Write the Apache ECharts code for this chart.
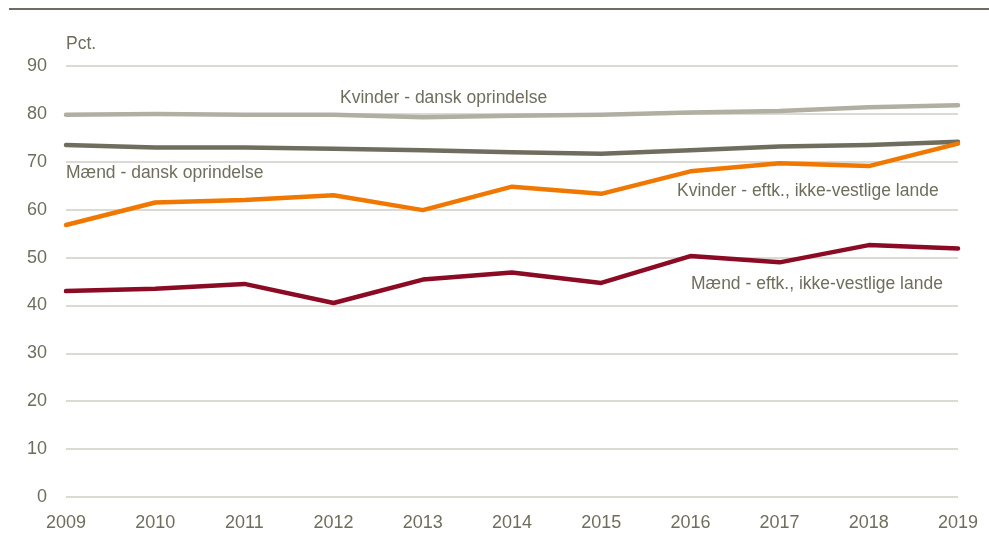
<!DOCTYPE html>
<html><head><meta charset="utf-8">
<script src="https://cdn.jsdelivr.net/npm/echarts@6/dist/echarts.min.js"></script>
<style>html,body{margin:0;padding:0;background:#fff}#c{width:989px;height:539px}</style>
</head><body><div id="c"></div>
<script>
const years = ['2009','2010','2011','2012','2013','2014','2015','2016','2017','2018','2019'];
const kvinderDansk = [79.8, 80.0, 79.8, 79.8, 79.3, 79.6, 79.8, 80.3, 80.6, 81.4, 81.8];
const maendDansk = [73.5, 73.0, 73.0, 72.7, 72.4, 72.0, 71.7, 72.4, 73.2, 73.5, 74.2];
const kvinderEftk = [56.8, 61.5, 62.0, 63.0, 59.9, 64.8, 63.3, 68.0, 69.7, 69.1, 73.8];
const maendEftk = [43.0, 43.5, 44.5, 40.5, 45.4, 46.9, 44.7, 50.3, 49.0, 52.6, 51.9];

const txt = '#6f6e5e';
const font = 'Liberation Sans, Arial, sans-serif';
const chart = echarts.init(document.getElementById('c'), null, {renderer:'canvas'});
function s(name, data, color){
  return {name, type:'line', data, symbol:'none', smooth:false,
    lineStyle:{color, width:4.5, cap:'round', join:'round'}, itemStyle:{color}, z:3, animation:false};
}
chart.setOption({
  animation:false,
  backgroundColor:'#fff',
  grid:{left:66, right:31, top:66, bottom:42, containLabel:false},
  xAxis:{type:'category', data:years, boundaryGap:false,
    axisLine:{show:false}, axisTick:{show:false},
    axisLabel:{color:txt, fontSize:18, fontFamily:font, margin:17}},
  yAxis:{type:'value', min:0, max:90, interval:10,
    axisLine:{show:false}, axisTick:{show:false},
    axisLabel:{color:txt, fontSize:18, fontFamily:font, margin:19},
    splitLine:{lineStyle:{color:'#d0cec6', width:1.5}}},
  series:[
    s('Kvinder - dansk oprindelse', kvinderDansk, '#b1afa2'),
    s('Mænd - dansk oprindelse', maendDansk, '#6f6e5e'),
    s('Kvinder - eftk., ikke-vestlige lande', kvinderEftk, '#f07800'),
    s('Mænd - eftk., ikke-vestlige lande', maendEftk, '#8b0a24')
  ],
  graphic:[
    {type:'line', shape:{x1:9,y1:9,x2:989,y2:9}, style:{stroke:'#6f6e5e', lineWidth:2}},
    {type:'text', left:66, top:35, style:{text:'Pct.', fill:txt, font:'17.5px '+font}},
    {type:'text', left:340, top:89, style:{text:'Kvinder - dansk oprindelse', fill:txt, font:'17.5px '+font}},
    {type:'text', left:66, top:164, style:{text:'Mænd - dansk oprindelse', fill:txt, font:'17.5px '+font}},
    {type:'text', left:677, top:182, style:{text:'Kvinder - eftk., ikke-vestlige lande', fill:txt, font:'17.5px '+font}},
    {type:'text', left:691, top:275, style:{text:'Mænd - eftk., ikke-vestlige lande', fill:txt, font:'17.5px '+font}}
  ]
});
</script></body></html>
